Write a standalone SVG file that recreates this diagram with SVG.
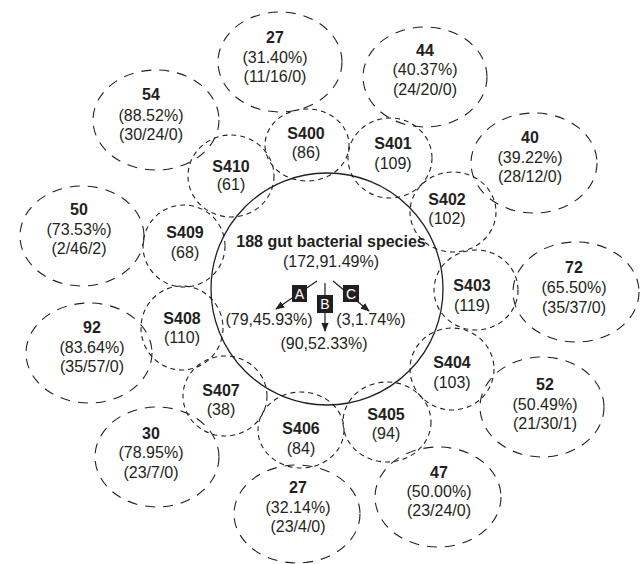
<svg xmlns="http://www.w3.org/2000/svg" width="640" height="564" viewBox="0 0 640 564">
<style>
.big{fill:none;stroke:#231f20;stroke-width:1.1;stroke-dasharray:10 8}
.small{fill:none;stroke:#231f20;stroke-width:1.1;stroke-dasharray:5 4}
.main{fill:none;stroke:#231f20;stroke-width:1.3}
text{font-family:"Liberation Sans",Arial,Helvetica,sans-serif;font-size:16px;fill:#231f20;text-anchor:middle}
.b{font-weight:bold}
.lbl{fill:#fff;font-size:14px}
.arr{stroke:#231f20;stroke-width:1.2;fill:none;marker-end:url(#ah)}
</style>
<defs>
<marker id="ah" viewBox="0 0 10 10" refX="9" refY="5" markerWidth="9" markerHeight="9" markerUnits="userSpaceOnUse" orient="auto">
<path d="M0,1 L10,5 L0,9 Z" fill="#231f20"/>
</marker>
</defs>
<rect width="640" height="564" fill="#fff"/>

<g id="e27top"><ellipse class="big" cx="280" cy="62" rx="62" ry="50"/><text class="b" x="275" y="43">27</text><text x="275" y="63">(31.40%)</text><text x="275" y="82">(11/16/0)</text></g>
<g id="e44"><ellipse class="big" cx="425" cy="77" rx="62" ry="50"/><text class="b" x="425" y="56">44</text><text x="425" y="75">(40.37%)</text><text x="425" y="95">(24/20/0)</text></g>
<g id="e40"><ellipse class="big" cx="534" cy="163" rx="63" ry="50"/><text class="b" x="530" y="143">40</text><text x="530" y="163">(39.22%)</text><text x="530" y="182">(28/12/0)</text></g>
<g id="e72"><ellipse class="big" cx="576" cy="292" rx="63" ry="50"/><text class="b" x="574" y="273">72</text><text x="574" y="293">(65.50%)</text><text x="574" y="313">(35/37/0)</text></g>
<g id="e52"><ellipse class="big" cx="542" cy="407" rx="62" ry="50"/><text class="b" x="545" y="390">52</text><text x="545" y="410">(50.49%)</text><text x="545" y="429">(21/30/1)</text></g>
<g id="e47"><ellipse class="big" cx="438" cy="497" rx="63" ry="50"/><text class="b" x="439" y="478">47</text><text x="439" y="497">(50.00%)</text><text x="439" y="516">(23/24/0)</text></g>
<g id="e27bot"><ellipse class="big" cx="297" cy="514" rx="63" ry="49"/><text class="b" x="298" y="493">27</text><text x="298" y="513">(32.14%)</text><text x="298" y="532">(23/4/0)</text></g>
<g id="e30"><ellipse class="big" cx="157" cy="457" rx="62" ry="50"/><text class="b" x="151" y="439">30</text><text x="151" y="458">(78.95%)</text><text x="151" y="478">(23/7/0)</text></g>
<g id="e92"><ellipse class="big" cx="89" cy="353" rx="63" ry="50"/><text class="b" x="92" y="333">92</text><text x="92" y="353">(83.64%)</text><text x="92" y="372">(35/57/0)</text></g>
<g id="e50"><ellipse class="big" cx="82" cy="236" rx="62" ry="50"/><text class="b" x="79" y="215">50</text><text x="79" y="235">(73.53%)</text><text x="79" y="254">(2/46/2)</text></g>
<g id="e54"><ellipse class="big" cx="156" cy="120" rx="63" ry="50"/><text class="b" x="151" y="100">54</text><text x="151" y="121">(88.52%)</text><text x="151" y="140">(30/24/0)</text></g>

<g id="S400"><ellipse class="small" cx="307" cy="145" rx="42" ry="36"/><text class="b" x="306" y="139">S400</text><text x="306" y="158">(86)</text></g>
<g id="S401"><ellipse class="small" cx="390" cy="158" rx="42" ry="40"/><text class="b" x="393" y="149">S401</text><text x="393" y="169">(109)</text></g>
<g id="S402"><ellipse class="small" cx="453" cy="212" rx="43" ry="40"/><text class="b" x="447" y="205">S402</text><text x="447" y="224">(102)</text></g>
<g id="S403"><ellipse class="small" cx="476" cy="290" rx="42" ry="40"/><text class="b" x="472" y="291">S403</text><text x="472" y="311">(119)</text></g>
<g id="S404"><ellipse class="small" cx="452" cy="369" rx="42" ry="41"/><text class="b" x="452" y="368">S404</text><text x="452" y="388">(103)</text></g>
<g id="S405"><ellipse class="small" cx="387" cy="422" rx="44" ry="40"/><text class="b" x="386" y="420">S405</text><text x="386" y="439">(94)</text></g>
<g id="S406"><ellipse class="small" cx="301" cy="430" rx="43" ry="38"/><text class="b" x="301" y="434">S406</text><text x="301" y="454">(84)</text></g>
<g id="S407"><ellipse class="small" cx="225" cy="396" rx="42" ry="40"/><text class="b" x="221" y="396">S407</text><text x="221" y="415">(38)</text></g>
<g id="S408"><ellipse class="small" cx="182" cy="328" rx="41" ry="42"/><text class="b" x="182" y="324">S408</text><text x="182" y="343">(110)</text></g>
<g id="S409"><ellipse class="small" cx="184" cy="246" rx="41" ry="41"/><text class="b" x="185" y="238">S409</text><text x="185" y="258">(68)</text></g>
<g id="S410"><ellipse class="small" cx="231" cy="176" rx="43" ry="41"/><text class="b" x="231" y="172">S410</text><text x="231" y="190">(61)</text></g>

<g id="center"><circle class="main" cx="327" cy="289" r="116"/>
<text class="b" x="331" y="247">188 gut bacterial species</text>
<text x="331" y="267">(172,91.49%)</text>
<text x="269" y="325">(79,45.93%)</text>
<text x="371" y="325">(3,1.74%)</text>
<text x="324" y="349">(90,52.33%)</text>
</g>

<g id="connectors">
<line class="arr" x1="317" y1="281" x2="276" y2="309"/>
<line class="arr" x1="325" y1="283" x2="325" y2="331"/>
<line class="arr" x1="333" y1="281" x2="369" y2="311"/>
</g>
<g id="labelA"><rect x="292" y="285" width="15" height="17" fill="#231f20"/><text class="lbl" x="299.5" y="298.5">A</text></g>
<g id="labelB"><rect x="317" y="295" width="16" height="18" fill="#231f20"/><text class="lbl" x="325" y="309">B</text></g>
<g id="labelC"><rect x="343" y="285" width="16" height="17" fill="#231f20"/><text class="lbl" x="351" y="298.5">C</text></g>
</svg>
